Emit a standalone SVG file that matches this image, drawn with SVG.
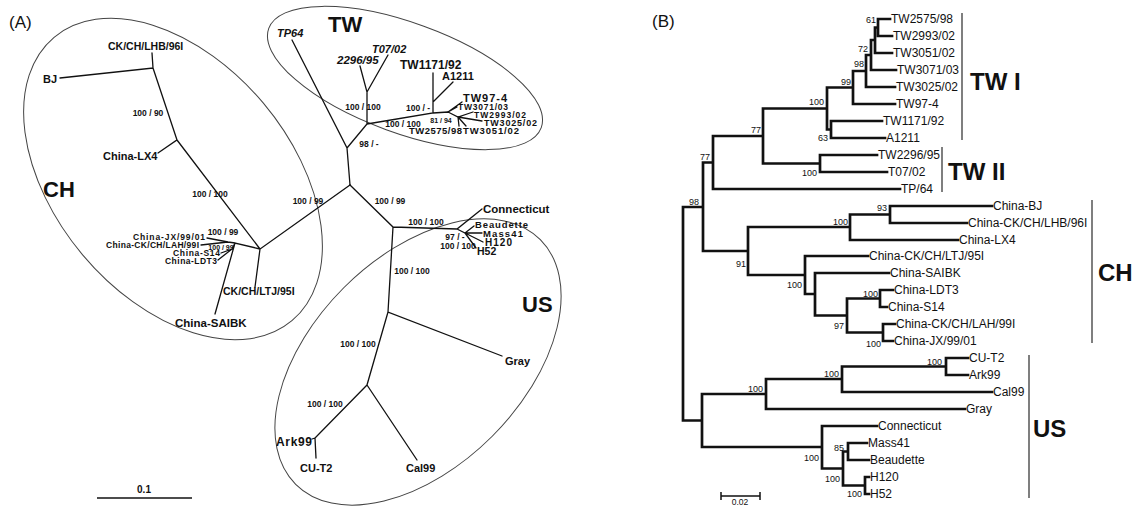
<svg xmlns="http://www.w3.org/2000/svg" width="1137" height="506" viewBox="0 0 1137 506">
<style>
text{font-family:"Liberation Sans",Arial,sans-serif;fill:#111}
.pl{font-size:17px}
.la{font-size:11px;font-weight:bold}
.it{font-style:italic}
.bs{font-size:8.5px;font-weight:bold;text-anchor:middle}
.sm{font-size:7px;font-weight:bold;text-anchor:middle}
.big{font-size:22px;font-weight:bold}
.bigb{font-size:24px;font-weight:bold}
.lb{font-size:12px}
.bb{font-size:9px;text-anchor:end}
.ell{fill:none;stroke:#444;stroke-width:1}
.ta{fill:none;stroke:#111;stroke-width:1.3;stroke-linecap:round}
.tb{fill:none;stroke:#111;stroke-width:2.7;stroke-linecap:square}
.bar{fill:none;stroke:#555;stroke-width:1.5}
</style>

<g id="panelA">
<text class="pl" x="9" y="28">(A)</text>

<g id="cluster-CH">
<ellipse class="ell" cx="173" cy="179" rx="185" ry="118" transform="rotate(50 173 179)"/>
<text class="big" x="43" y="197">CH</text>
<text class="la" x="108" y="50" style="font-size:10.5px">CK/CH/LHB/96I</text>
<text class="la" x="43" y="83">BJ</text>
<text class="la" x="103" y="160">China-LX4</text>
<text class="la" x="133" y="240" style="font-size:8.5px" textLength="72" lengthAdjust="spacing">China-JX/99/01</text>
<text class="la" x="106" y="247.5" style="font-size:8.5px" textLength="93" lengthAdjust="spacing">China-CK/CH/LAH/99I</text>
<text class="la" x="173" y="255.5" style="font-size:8.5px" textLength="47" lengthAdjust="spacing">China-S14</text>
<text class="la" x="165" y="264" style="font-size:8.5px" textLength="52" lengthAdjust="spacing">China-LDT3</text>
<text class="la" x="223" y="295" style="font-size:10.5px">CK/CH/LTJ/95I</text>
<text class="la" x="175" y="327" style="font-size:11.5px">China-SAIBK</text>
<text class="bs" x="148" y="116">100 / 90</text>
<text class="bs" x="210" y="197">100 / 100</text>
<text class="bs" x="223" y="235">100 / 99</text>
<text class="sm" x="221" y="250">100 / 99</text>
</g>

<g id="cluster-TW">
<ellipse class="ell" cx="405" cy="78" rx="145" ry="55" transform="rotate(20 405 78)"/>
<text class="big" x="328" y="32">TW</text>
<text class="la it" x="277" y="37">TP64</text>
<text class="la it" x="337" y="64" style="font-size:11.5px">2296/95</text>
<text class="la it" x="372" y="53">T07/02</text>
<text class="la" x="400" y="69" style="font-size:12px">TW1171/92</text>
<text class="la" x="442" y="80">A1211</text>
<text class="la" x="463" y="102" textLength="44" lengthAdjust="spacing">TW97-4</text>
<text class="la" x="458" y="110" style="font-size:8.5px" textLength="50" lengthAdjust="spacing">TW3071/03</text>
<text class="la" x="474" y="117.5" style="font-size:8.5px" textLength="52" lengthAdjust="spacing">TW2993/02</text>
<text class="la" x="484" y="126" style="font-size:9px" textLength="53" lengthAdjust="spacing">TW3025/02</text>
<text class="la" x="463" y="134" style="font-size:9.5px" textLength="56" lengthAdjust="spacing">TW3051/02</text>
<text class="la" x="409" y="134" style="font-size:9.5px" textLength="53" lengthAdjust="spacing">TW2575/98</text>
<text class="bs" x="363" y="110">100 / 100</text>
<text class="bs" x="418" y="111">100 / -</text>
<text class="bs" x="403" y="127">100 / 100</text>
<text class="sm" x="441" y="123">81 / 94</text>
<text class="bs" x="369" y="147">98 / -</text>
</g>

<g id="cluster-US">
<ellipse class="ell" cx="418" cy="362" rx="173" ry="105" transform="rotate(-45 418 362)"/>
<text class="big" x="522" y="312">US</text>
<text class="la" x="483" y="213" style="font-size:11.5px">Connecticut</text>
<text class="la" x="475" y="228" style="font-size:9.5px" textLength="53" lengthAdjust="spacing">Beaudette</text>
<text class="la" x="483" y="236.5" style="font-size:9.5px" textLength="40" lengthAdjust="spacing">Mass41</text>
<text class="la" x="485" y="245.5" style="font-size:10px" textLength="27" lengthAdjust="spacing">H120</text>
<text class="la" x="477" y="255" style="font-size:10.5px">H52</text>
<text class="la" x="505" y="365">Gray</text>
<text class="la" x="406" y="472">Cal99</text>
<text class="la" x="276" y="446" style="font-size:12px" textLength="36" lengthAdjust="spacing">Ark99</text>
<text class="la" x="300" y="472">CU-T2</text>
<text class="bs" x="426" y="225">100 / 100</text>
<text class="bs" x="455" y="240">97 / -</text>
<text class="bs" x="458" y="249">100 / 100</text>
<text class="bs" x="412" y="274">100 / 100</text>
<text class="bs" x="358" y="347">100 / 100</text>
<text class="bs" x="325" y="407">100 / 100</text>
</g>

<text class="bs" x="308" y="204">100 / 99</text>
<text class="bs" x="390" y="204">100 / 99</text>

<g id="connectors-A">
<path class="ta" d="M350 185L347 148L292 40M347 148L367 124L367 92L360 66M367 92L388 55M367 124L433 113L433 102L433 73M433 102L453 82M433 113L448 112L462 102M448 112L457 107M448 112L458 117L473 112M458 117L482 121M458 117L466 126M458 117L459 126"/>
<path class="ta" d="M350 185L260 249L255 287M260 249L177 140L158 153M177 140L153 68L60 78M153 68L152 53M260 249L235 243L215 314M235 243L228 242L207 238M228 242L201 245M235 243L232 249L221 253M232 249L218 260"/>
<path class="ta" d="M350 185L393 227L457 229L482 209M457 229L465 233L474 226M465 233L482 233M465 233L483 242M465 233L476 248M393 227L388 312L502 356M388 312L367 385L417 460M367 385L315 438L316 458M315 438L312 439"/>
</g>

<g id="scale-A">
<path d="M97 498H192" stroke="#111" stroke-width="1.3"/>
<text class="la" x="144" y="493" text-anchor="middle" style="font-size:10px">0.1</text>
</g>
</g>

<g id="panelB">
<text class="pl" x="652" y="27">(B)</text>

<g id="connectors-B">
<path class="tb" d="M683 207V420.5M683 207H703M683 420.5H702
M703 162.5V251M703 162.5H713M703 251H748
M713 136V189M713 136H763M713 189H900
M763 108.5V163.5M763 108.5H827M763 163.5H820
M820 155V172M820 155H877M820 172H887
M827 87.5V129.5M827 87.5H853M827 129.5H831
M831 121V138M831 121H882M831 138H885
M853 71V104M853 71H866M853 104H895
M866 55V87M866 55H871M866 87H895
M871 40V70M871 40H875M871 70H896
M875 27.5V53M875 27.5H878M875 53H892
M878 19V36M878 19H890M878 36H892
M748 227V275M748 227H850M748 275H805
M850 214.5V240M850 214.5H890M850 240H958
M890 206V223M890 206H992M890 223H967
M805 256V294M805 256H868M805 294H815
M815 273V315.5M815 273H889M815 315.5H847
M847 298.5V332.5M847 298.5H880M847 332.5H883
M880 290V307M880 290H893M880 307H887
M883 324V341M883 324H895M883 341H893
M702 394V447M702 394H766M702 447H822
M766 379V409M766 379H842M766 409H965
M842 366.5V392M842 366.5H946M842 392H992
M946 358V375M946 358H968M946 375H968
M822 426V468.5M822 426H877M822 468.5H843
M843 451.5V485.5M843 451.5H848M843 485.5H865
M848 443V460M848 443H867M848 460H869
M865 477V494M865 477H869M865 494H869"/>
</g>

<g id="leaves-B">
<text class="lb" x="891" y="23">TW2575/98</text>
<text class="lb" x="893" y="40">TW2993/02</text>
<text class="lb" x="893" y="57">TW3051/02</text>
<text class="lb" x="897" y="74">TW3071/03</text>
<text class="lb" x="896" y="91">TW3025/02</text>
<text class="lb" x="896" y="108">TW97-4</text>
<text class="lb" x="883" y="125">TW1171/92</text>
<text class="lb" x="886" y="142">A1211</text>
<text class="lb" x="878" y="159">TW2296/95</text>
<text class="lb" x="888" y="176">T07/02</text>
<text class="lb" x="901" y="193">TP/64</text>
<text class="lb" x="993" y="210">China-BJ</text>
<text class="lb" x="968" y="227">China-CK/CH/LHB/96I</text>
<text class="lb" x="959" y="244">China-LX4</text>
<text class="lb" x="869" y="260">China-CK/CH/LTJ/95I</text>
<text class="lb" x="890" y="277">China-SAIBK</text>
<text class="lb" x="894" y="294">China-LDT3</text>
<text class="lb" x="888" y="311">China-S14</text>
<text class="lb" x="896" y="328">China-CK/CH/LAH/99I</text>
<text class="lb" x="894" y="345">China-JX/99/01</text>
<text class="lb" x="969" y="362">CU-T2</text>
<text class="lb" x="969" y="379">Ark99</text>
<text class="lb" x="993" y="396">Cal99</text>
<text class="lb" x="966" y="413">Gray</text>
<text class="lb" x="878" y="430">Connecticut</text>
<text class="lb" x="868" y="447">Mass41</text>
<text class="lb" x="870" y="464">Beaudette</text>
<text class="lb" x="870" y="481">H120</text>
<text class="lb" x="870" y="498">H52</text>
</g>

<g id="support-B">
<text class="bb" x="876" y="23">61</text>
<text class="bb" x="868" y="52">72</text>
<text class="bb" x="864" y="67">98</text>
<text class="bb" x="851" y="85">99</text>
<text class="bb" x="824" y="105">100</text>
<text class="bb" x="828" y="141">63</text>
<text class="bb" x="761" y="133">77</text>
<text class="bb" x="817" y="176">100</text>
<text class="bb" x="710" y="160">77</text>
<text class="bb" x="699" y="205">98</text>
<text class="bb" x="887" y="211">93</text>
<text class="bb" x="848" y="225">100</text>
<text class="bb" x="746" y="267">91</text>
<text class="bb" x="802" y="288">100</text>
<text class="bb" x="878" y="297">100</text>
<text class="bb" x="844" y="329">97</text>
<text class="bb" x="881" y="347">100</text>
<text class="bb" x="942" y="365">100</text>
<text class="bb" x="839" y="377">100</text>
<text class="bb" x="763" y="392">100</text>
<text class="bb" x="819" y="461">100</text>
<text class="bb" x="844" y="451">85</text>
<text class="bb" x="840" y="482">100</text>
<text class="bb" x="862" y="497">100</text>
</g>

<g id="clades-B">
<path class="bar" d="M962 13V140M942 147V192M1092 200V343M1029 355V498"/>
<text class="bigb" x="970" y="90">TW I</text>
<text class="bigb" x="948" y="180">TW II</text>
<text class="bigb" x="1098" y="281">CH</text>
<text class="bigb" x="1033" y="437">US</text>
</g>

<g id="scale-B">
<path d="M721 496H760M721 492V500M760 492V500" stroke="#111" stroke-width="1.5" fill="none"/>
<text x="740" y="505" text-anchor="middle" style="font-size:8.5px">0.02</text>
</g>
</g>
</svg>
